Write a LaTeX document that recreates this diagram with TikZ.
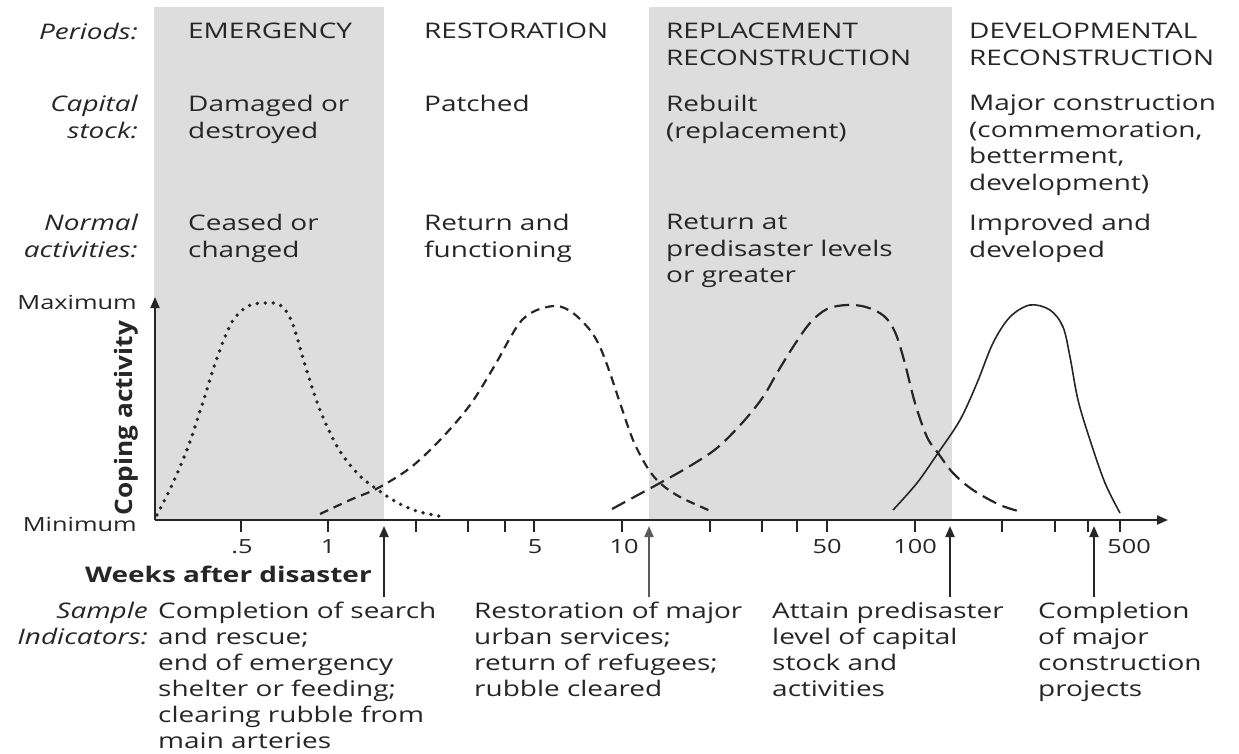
\documentclass[tikz,border=0pt]{standalone}
\usepackage{fontspec}
\usepackage{graphicx}
\setmainfont{Open Sans}[FakeStretch=1.3]
\usetikzlibrary{arrows.meta}
\definecolor{band}{HTML}{DDDDDD}
\definecolor{ink}{HTML}{262626}
\definecolor{softink}{HTML}{5A5A5A}
\newcommand\bodysize{\fontsize{21.5}{26.5}\selectfont}
\newcommand\tightsize{\fontsize{21.5}{26}\selectfont}
\newcommand\smallsize{\fontsize{19.5}{24}\selectfont}
\begin{document}
\begin{tikzpicture}[x=1pt,y=-1pt,
  txt/.style={inner sep=0pt, align=left, anchor=north west, font=\bodysize, text=ink},
  rowlbl/.style={inner sep=0pt, align=right, anchor=north east, font=\bodysize\itshape, text=ink},
  ticklbl/.style={inner sep=0pt, anchor=base, font=\smallsize, text=ink},
  scalelbl/.style={inner sep=0pt, anchor=base east, font=\smallsize, text=ink},
  axisline/.style={draw=ink, line width=2pt},
  tickmark/.style={draw=ink, line width=1.8pt},
  curve/.style={draw=ink, line width=2.2pt},
  dotcurve/.style={curve, line width=3.8pt, line cap=round, dash pattern=on 0pt off 8pt},
  shortdash/.style={curve, dash pattern=on 9pt off 6pt},
  longdash/.style={curve, dash pattern=on 15pt off 7pt},
  solidcurve/.style={curve, line width=1.6pt},
  uparrow/.style={draw=ink, line width=2pt, -{Triangle[width=9pt,length=11pt]}},
]
\useasboundingbox (0,0) rectangle (1239,753);

% shaded periods
\fill[band] (154,7) rectangle (384,520);
\fill[band] (649,7) rectangle (952,520);

% row labels
\node[rowlbl] (lperiods) at (138,23) {Periods:};
\node[rowlbl] (lcapital) at (138,95) {Capital\\stock:};
\node[rowlbl] (lnormal) at (138,214) {Normal\\activities:};

% periods
\node[txt] (p1) at (188,23) {EMERGENCY};
\node[txt] (p2) at (424,23) {RESTORATION};
\node[txt] (p3) at (666,23) {REPLACEMENT\\RECONSTRUCTION};
\node[txt] (p4) at (969,23) {DEVELOPMENTAL\\RECONSTRUCTION};

% capital stock
\node[txt] (c1) at (188,95) {Damaged or\\destroyed};
\node[txt] (c2) at (424,95) {Patched};
\node[txt] (c3) at (666,95) {Rebuilt\\(replacement)};
\node[txt] (c4) at (969,95) {Major construction\\(commemoration,\\betterment,\\development)};

% normal activities
\node[txt] (n1) at (188,214) {Ceased or\\changed};
\node[txt] (n2) at (424,214) {Return and\\functioning};
\node[txt] (n3) at (666,214) {Return at\\predisaster levels\\or greater};
\node[txt] (n4) at (969,214) {Improved and\\developed};

% axes
\coordinate (origin) at (155,520);
\coordinate (ytip) at (155,297);
\coordinate (xtip) at (1168,520);
\draw[axisline, -{Triangle[width=9pt,length=11pt]}] (origin) -- (ytip);
\draw[axisline, -{Triangle[width=9pt,length=11pt]}] (origin) -- (xtip);

\node[scalelbl] (maxlbl) at (137,309) {Maximum};
\node[scalelbl] (minlbl) at (137,531) {Minimum};
\node[inner sep=0pt, rotate=90, anchor=base, text=ink] (coping) at (132,418)
  {\scalebox{0.84}[1.0]{\fontsize{24}{28}\selectfont\bfseries Coping activity}};

% logarithmic ticks
\foreach \tx in {241,328,416,468,505,534,622,710,762,797,827,915,1002,1055,1088,1120}
  \draw[tickmark] (\tx,520) -- (\tx,532);

\node[ticklbl] (t05) at (242,553) {.5};
\node[ticklbl] (t1) at (328,553) {1};
\node[ticklbl] (t5) at (535,553) {5};
\node[ticklbl] (t10) at (624,553) {10};
\node[ticklbl] (t50) at (827,553) {50};
\node[ticklbl] (t100) at (915,553) {100};
\node[ticklbl] (t500) at (1129,553) {500};

\node[inner sep=0pt, anchor=base west, font=\bodysize\bfseries, text=ink] (weeks) at (85,582) {Weeks after disaster};

% coping curves
\draw[dotcurve] plot[smooth, tension=0.55] coordinates {
  (157,515) (172,485) (188,447) (202,405) (217,358) (232,322) (248,306)
  (265,303) (280,305) (292,322) (305,365) (320,410) (338,448) (358,474)
  (378,490) (400,504) (420,512) (445,517)};
\draw[shortdash] plot[smooth, tension=0.55] coordinates {
  (320,514) (350,500) (378,488) (410,468) (440,440) (470,405) (495,365)
  (510,338) (522,320) (537,310) (557,306) (573,313) (590,330) (600,347)
  (610,373) (620,403) (633,440) (647,467) (660,483) (680,497) (713,512)};
\draw[longdash] plot[smooth, tension=0.55] coordinates {
  (612,509) (636,496) (660,483) (690,466) (717,448) (743,422) (763,397)
  (777,373) (793,347) (810,323) (827,309) (847,305) (866,307) (884,316)
  (895,332) (904,360) (915,403) (927,437) (938,453) (953,473) (973,490)
  (1000,505) (1022,512)};
\draw[solidcurve] plot[smooth, tension=0.55] coordinates {
  (893,510) (917,483) (938,453) (960,420) (977,383) (993,343) (1010,317)
  (1030,305) (1050,310) (1063,327) (1070,357) (1078,400) (1090,440)
  (1105,483) (1120,513)};

% indicator arrows
\coordinate (a1b) at (384,597); \coordinate (a1t) at (384,526);
\coordinate (a2b) at (649,597); \coordinate (a2t) at (649,526);
\coordinate (a3b) at (950,597); \coordinate (a3t) at (950,526);
\coordinate (a4b) at (1094,597); \coordinate (a4t) at (1094,526);
\draw[uparrow] (a1b) -- (a1t);
\draw[uparrow, draw=softink] (a2b) -- (a2t);
\draw[uparrow] (a3b) -- (a3t);
\draw[uparrow] (a4b) -- (a4t);

% sample indicators
\node[rowlbl, font=\tightsize\itshape] (lsample) at (148,602) {Sample\\Indicators:};
\node[txt, font=\tightsize] (s1) at (158,602) {Completion of search\\and rescue;\\end of emergency\\shelter or feeding;\\clearing rubble from\\main arteries};
\node[txt, font=\tightsize] (s2) at (474,602) {Restoration of major\\urban services;\\return of refugees;\\rubble cleared};
\node[txt, font=\tightsize] (s3) at (772,602) {Attain predisaster\\level of capital\\stock and\\activities};
\node[txt, font=\tightsize] (s4) at (1038,602) {Completion\\of major\\construction\\projects};
\end{tikzpicture}
\end{document}
